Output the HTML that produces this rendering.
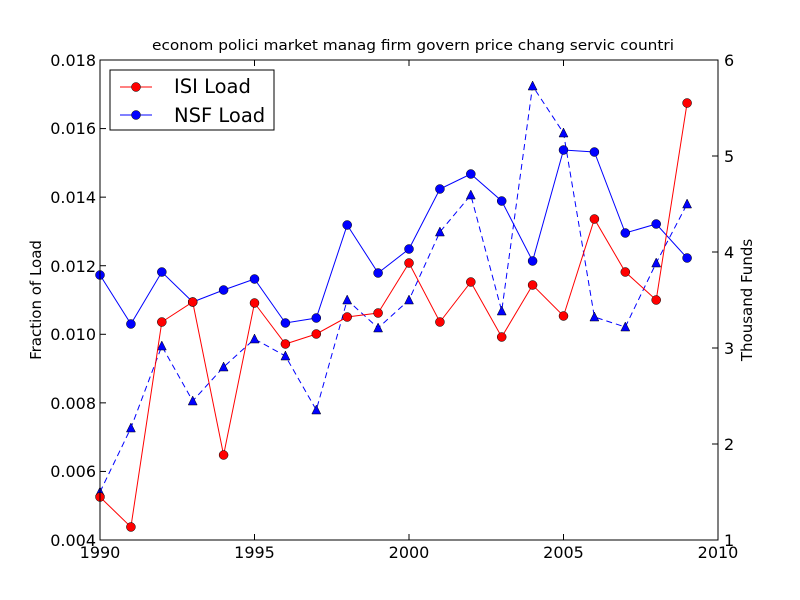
<!DOCTYPE html>
<html><head><meta charset="utf-8"><style>body{margin:0;background:#fff}svg{display:block}text{font-family:"DejaVu Sans","Liberation Sans",sans-serif}</style></head>
<body>
<svg width="800" height="600" viewBox="0 0 800 600" xmlns="http://www.w3.org/2000/svg">
<rect width="800" height="600" fill="#fff"/>
<text x="413" y="50" font-size="14" text-anchor="middle" textLength="522" lengthAdjust="spacingAndGlyphs">econom polici market manag firm govern price chang servic countri</text>
<g id="plot"></g>
<g id="ticks" stroke="#000" stroke-width="1"></g>
<rect x="100" y="60" width="618" height="480" fill="none" stroke="#000" stroke-width="1"/>
<g font-size="16" text-anchor="middle">
<text x="100" y="558">1990</text><text x="254.5" y="558">1995</text><text x="409" y="558">2000</text><text x="563.5" y="558">2005</text><text x="718" y="558">2010</text>
</g>
<g font-size="16" text-anchor="end">
<text x="96" y="546">0.004</text><text x="96" y="477">0.006</text><text x="96" y="409">0.008</text><text x="96" y="340">0.010</text><text x="96" y="272">0.012</text><text x="96" y="203">0.014</text><text x="96" y="134">0.016</text><text x="96" y="66">0.018</text>
</g>
<g font-size="16">
<text x="724" y="546">1</text><text x="724" y="450">2</text><text x="724" y="354">3</text><text x="724" y="258">4</text><text x="724" y="162">5</text><text x="724" y="66">6</text>
</g>
<text transform="translate(41,300) rotate(-90)" font-size="15" text-anchor="middle">Fraction of Load</text>
<text transform="translate(752,300) rotate(-90)" font-size="15" text-anchor="middle">Thousand Funds</text>
<rect x="110" y="70" width="164" height="60" fill="#fff" stroke="#000"/>
<line x1="120" y1="87" x2="152" y2="87" stroke="red"/><circle cx="136" cy="87" r="4.5" fill="red" stroke="#000" stroke-width="0.5"/>
<text x="174" y="93" font-size="19.5">ISI Load</text>
<line x1="120" y1="115" x2="152" y2="115" stroke="blue"/><circle cx="136" cy="115" r="4.5" fill="blue" stroke="#000" stroke-width="0.5"/>
<text x="174" y="122" font-size="19.5">NSF Load</text>
</svg>
<script>
const isi=[497,527,322,302,455,303,344,334,317,313,263,322,282,337,285,316,219,272,300,103];
const nsf=[275,324,272,302,290,279,323,318,225,273,249,189,174,201,261,150,152,233,224,258];
const tri=[492,428,346,401,367,339,356,410,300,328,300,232,195,311,86,133,317,327,263,204];
const X=i=>100+i*30.9;const g=document.getElementById('plot');let s='';
const pts=a=>a.map((y,i)=>X(i)+','+y).join(' ');
s+=`<polyline points="${pts(tri)}" fill="none" stroke="blue" stroke-dasharray="6,4"/>`;
tri.forEach((y,i)=>{const x=X(i);s+=`<polygon points="${x},${y-5} ${x-4.5},${y+4} ${x+4.5},${y+4}" fill="blue" stroke="#000" stroke-width="0.5"/>`});
s+=`<polyline points="${pts(nsf)}" fill="none" stroke="blue"/>`;
nsf.forEach((y,i)=>{s+=`<circle cx="${X(i)}" cy="${y}" r="4.5" fill="blue" stroke="#000" stroke-width="0.5"/>`});
s+=`<polyline points="${pts(isi)}" fill="none" stroke="red"/>`;
isi.forEach((y,i)=>{s+=`<circle cx="${X(i)}" cy="${y}" r="4.5" fill="red" stroke="#000" stroke-width="0.5"/>`});
g.innerHTML=s;
let t='';
for(let k=0;k<=4;k++){const x=100+k*154.5;t+=`<line x1="${x}" y1="540" x2="${x}" y2="534"/><line x1="${x}" y1="60" x2="${x}" y2="66"/>`;}
for(let k=0;k<=7;k++){const y=540-k*68.57;t+=`<line x1="100" y1="${y}" x2="106" y2="${y}"/>`;}
for(let k=0;k<=5;k++){const y=540-k*96;t+=`<line x1="718" y1="${y}" x2="712" y2="${y}"/>`;}
document.getElementById('ticks').innerHTML=t;
</script>
</body></html>
